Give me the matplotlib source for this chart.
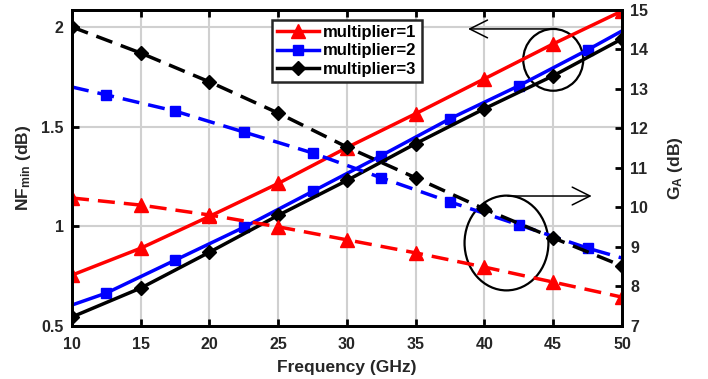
import numpy as np
import matplotlib
matplotlib.use('Agg')
import matplotlib.pyplot as plt
from matplotlib.patches import Ellipse

plt.rcParams['font.family'] = 'Liberation Sans'
plt.rcParams['font.weight'] = 'bold'
plt.rcParams['mathtext.fontset'] = 'custom'
plt.rcParams['mathtext.rm'] = 'Liberation Sans:bold'
plt.rcParams['mathtext.bf'] = 'Liberation Sans:bold'
plt.rcParams['mathtext.it'] = 'Liberation Sans:bold'

# Frequency points (GHz)
freq = [10, 15, 20, 25, 30, 35, 40, 45, 50]
freq_m2 = [10, 12.5, 17.5, 22.5, 27.5, 32.5, 37.5, 42.5, 47.5, 50]

# NFmin (dB), left axis, solid lines
nf_m1 = [0.755, 0.89, 1.05, 1.215, 1.395, 1.565, 1.74, 1.915, 2.08]
nf_m2 = [0.605, 0.665, 0.83, 0.995, 1.175, 1.355, 1.54, 1.705, 1.885, 1.98]
nf_m3 = [0.545, 0.69, 0.87, 1.055, 1.23, 1.415, 1.59, 1.755, 1.94]

# G_A (dB), right axis, dashed lines
ga_m1 = [10.24, 10.06, 9.81, 9.51, 9.18, 8.85, 8.49, 8.11, 7.73]
ga_m2 = [13.05, 12.85, 12.44, 11.91, 11.38, 10.75, 10.14, 9.56, 8.97, 8.72]
ga_m3 = [14.57, 13.91, 13.18, 12.39, 11.53, 10.75, 9.96, 9.23, 8.52]

labels = ['multiplier=1', 'multiplier=2', 'multiplier=3']
colors = ['#ff0000', '#0000ff', '#000000']

fig = plt.figure(figsize=(7.08, 3.79), dpi=100)
ax = fig.add_axes([0.1017, 0.140, 0.7768, 0.8336])
ax2 = ax.twinx()

lw = 2.5
dash = (4.9, 2.6)
m2_marks = list(range(1, 9))

h1, = ax.plot(freq, nf_m1, '-', color=colors[0], lw=lw, marker='^', ms=9.5)
h2, = ax.plot(freq_m2, nf_m2, '-', color=colors[1], lw=lw, marker='s', ms=7, markevery=m2_marks)
h3, = ax.plot(freq, nf_m3, '-', color=colors[2], lw=lw, marker='D', ms=7)

ax2.plot(freq, ga_m1, color=colors[0], lw=lw, dashes=dash, marker='^', ms=9.5)
ax2.plot(freq_m2, ga_m2, color=colors[1], lw=lw, dashes=dash, marker='s', ms=7, markevery=m2_marks)
ax2.plot(freq, ga_m3, color=colors[2], lw=lw, dashes=dash, marker='D', ms=7)

ax.set_xlim(10, 50)
ax.set_ylim(0.5, 2.085)
ax2.set_ylim(7, 15)
ax.set_xticks([10, 15, 20, 25, 30, 35, 40, 45, 50])
ax.set_yticks([0.5, 1, 1.5, 2])
ax.set_yticklabels(['0.5', '1', '1.5', '2'])
ax2.set_yticks(range(7, 16))

ax.grid(True, color='#d0d0d0', lw=1.5)
ax.set_axisbelow(True)

tick_col = '#262626'
for a in (ax, ax2):
    for s in a.spines.values():
        s.set_linewidth(2)
    a.tick_params(direction='in', width=2, length=5, labelsize=11.5, pad=6, labelcolor=tick_col)
ax.tick_params(axis='x', top=True, pad=8)
ax.set_xlabel('Frequency (GHz)', fontsize=12.5, fontweight='bold', labelpad=6, color=tick_col)
ax.set_ylabel(r'NF$_{\mathrm{min}}$ (dB)', fontsize=12.5, fontweight='bold', labelpad=6, color=tick_col)
ax2.set_ylabel(r'G$_{\mathrm{A}}$ (dB)', fontsize=12.5, fontweight='bold', labelpad=13, color=tick_col)

# annotations: circle + arrow for each group
ax.add_patch(Ellipse((45, 1.835), 4.36, 0.31, fill=False, ec='black', lw=1.6))
ax.annotate('', xy=(38.6, 1.99), xytext=(45.05, 1.99),
            arrowprops=dict(arrowstyle='->', color='black', lw=1.1, mutation_scale=32))
ax2.add_patch(Ellipse((41.6, 9.1), 6.1, 2.4, fill=False, ec='black', lw=1.6))
ax2.annotate('', xy=(48.0, 10.29), xytext=(41.5, 10.29),
             arrowprops=dict(arrowstyle='->', color='black', lw=1.1, mutation_scale=32))

leg = ax2.legend([h1, h2, h3], labels, loc='upper center', bbox_to_anchor=(0.5, 0.968),
                 fancybox=False, framealpha=1, edgecolor='#262626', fontsize=12,
                 handlelength=2.5, borderpad=0.3, labelspacing=0.2, handletextpad=0.25,
                 borderaxespad=0)
leg.get_frame().set_linewidth(1.8)
for t in leg.get_texts():
    t.set_fontweight('bold')

fig.savefig('out.png', dpi=100)
